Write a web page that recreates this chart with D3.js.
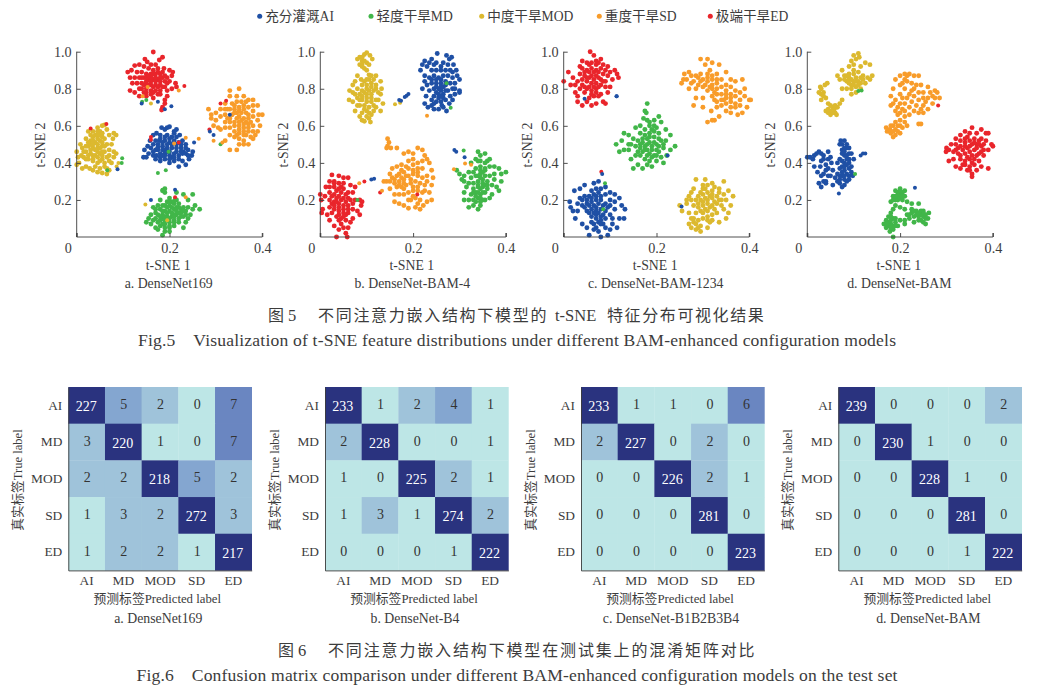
<!DOCTYPE html>
<html><head><meta charset="utf-8">
<script src="https://cdn.jsdelivr.net/npm/d3@7/dist/d3.min.js"></script>
<style>html,body{margin:0;padding:0;background:#fff}svg{display:block}
text{font-family:"Liberation Serif","Noto Sans CJK SC",serif}</style>
</head><body><svg id="c" width="1040" height="693"></svg>
<script>
const classes=["AI","MD","MOD","SD","ED"];
const legendLabels=["充分灌溉AI","轻度干旱MD","中度干旱MOD","重度干旱SD","极端干旱ED"];
const classColors=["#1f50a5","#41b649","#dcb92f","#f89c2a","#e9252b"];
const scatterXTicks=[0,.2,.4],scatterYTicks=[.2,.4,.6,.8,1];

const a_AI=[[.144,.43],[.15,.43],[.146,.47],[.153,.49],[.158,.52],[.16,.48],[.165,.55],[.172,.56],[.178,.52],[.183,.59],[.19,.58],[.195,.59],[.2,.595],[.21,.57],[.215,.58],[.222,.55],[.228,.52],[.235,.5],[.24,.47],[.25,.46],[.248,.44],[.242,.42],[.235,.39],[.228,.41],[.22,.38],[.21,.41],[.2,.4],[.19,.42],[.18,.41],[.17,.42],[.165,.44],[.155,.45],
[.17,.47],[.18,.45],[.19,.45],[.2,.44],[.21,.45],[.22,.44],[.23,.46],[.175,.5],[.185,.49],[.195,.48],[.205,.48],[.215,.48],[.225,.48],[.235,.45],[.18,.53],[.19,.52],[.2,.51],[.21,.52],[.22,.51],[.195,.55],[.205,.54],[.215,.54],[.19,.47],[.2,.46],[.205,.43],[.185,.47],[.172,.44],[.228,.45],
[.165,.46],[.175,.485],[.165,.5],[.185,.51],[.195,.5],[.205,.5],[.215,.5],[.225,.5],[.18,.43],[.19,.44],[.2,.42],[.21,.43],[.22,.42],[.225,.46],[.195,.46],[.215,.46],[.2,.53],[.21,.56],[.19,.54],[.18,.55],[.175,.47],[.17,.52],[.235,.48],[.24,.44],[.185,.44]];
const a_MD=[[.15,.08],[.155,.1],[.16,.12],[.165,.16],[.17,.13],[.175,.17],[.18,.2],[.19,.24],[.2,.21],[.212,.2],[.215,.24],[.23,.23],[.25,.23],[.24,.2],[.255,.17],[.265,.15],[.25,.15],[.245,.12],[.24,.1],[.235,.08],[.23,.05],[.22,.08],[.21,.06],[.2,.03],[.19,.05],[.185,.01],[.18,.06],[.17,.05],[.16,.07],[.19,.26],[.185,.25],[.175,.04],
[.17,.1],[.18,.09],[.19,.09],[.2,.08],[.21,.09],[.22,.1],[.23,.11],[.175,.12],[.185,.12],[.195,.11],[.205,.11],[.215,.12],[.225,.13],[.235,.14],[.18,.15],[.19,.14],[.2,.14],[.21,.15],[.22,.16],[.23,.16],[.19,.17],[.2,.17],[.21,.18],[.22,.18],[.195,.19],[.165,.09],[.24,.16],[.2,.05],[.21,.12],[.19,.07],
[.175,.08],[.185,.1],[.195,.13],[.205,.13],[.215,.14],[.225,.11],[.18,.11],[.19,.11],[.2,.1],[.21,.11],[.22,.13],[.185,.14],[.195,.16],[.205,.16],[.215,.16],[.225,.15],[.205,.19],[.215,.2],[.185,.17],[.2,.06],[.19,.03],[.21,.08],[.23,.14],[.17,.15],[.235,.12],[.185,.07],[.2,.19]];
const a_MOD=[[.0,.39],[.003,.43],[.0,.46],[.008,.5],[.005,.4],[.012,.37],[.02,.38],[.028,.37],[.035,.36],[.045,.35],[.055,.345],[.065,.34],[.07,.36],[.06,.38],[.075,.4],[.08,.43],[.085,.45],[.08,.46],[.07,.47],[.075,.5],[.078,.53],[.085,.55],[.08,.56],[.07,.55],[.065,.58],[.055,.6],[.05,.57],[.045,.59],[.035,.57],[.025,.57],[.02,.53],[.012,.48],[.06,.605],
[.015,.43],[.025,.42],[.035,.41],[.045,.4],[.055,.42],[.065,.43],[.02,.46],[.03,.45],[.04,.44],[.05,.45],[.06,.46],[.025,.49],[.035,.48],[.045,.48],[.055,.49],[.065,.5],[.03,.52],[.04,.51],[.05,.52],[.06,.53],[.035,.54],[.045,.55],[.055,.56],[.015,.46],[.07,.44],[.05,.41],[.04,.38],[.03,.5],[.02,.42],[.01,.44],
[.025,.44],[.035,.44],[.045,.46],[.055,.46],[.03,.47],[.04,.47],[.05,.48],[.06,.49],[.025,.51],[.035,.5],[.045,.5],[.055,.51],[.035,.52],[.045,.53],[.055,.54],[.04,.55],[.05,.55],[.045,.57],[.03,.55],[.02,.49],[.035,.42],[.045,.43],[.055,.44],[.06,.4],[.065,.37],[.05,.37],[.07,.41]];
const a_SD=[[.284,.69],[.29,.64],[.29,.66],[.295,.6],[.3,.63],[.305,.59],[.31,.69],[.32,.72],[.33,.76],[.33,.79],[.35,.8],[.345,.76],[.36,.76],[.37,.74],[.38,.74],[.39,.71],[.4,.66],[.392,.66],[.395,.6],[.39,.57],[.385,.55],[.38,.53],[.37,.5],[.36,.5],[.35,.5],[.345,.47],[.33,.47],[.32,.52],[.31,.58],[.34,.54],[.39,.63],
[.31,.65],[.32,.62],[.33,.59],[.34,.57],[.35,.56],[.36,.55],[.37,.57],[.38,.6],[.32,.66],[.33,.64],[.34,.62],[.35,.6],[.36,.59],[.37,.61],[.38,.65],[.33,.69],[.34,.67],[.35,.65],[.36,.64],[.37,.66],[.38,.68],[.32,.59],[.34,.71],[.35,.7],[.36,.69],[.37,.7],[.345,.73],[.355,.73],[.365,.62],[.33,.55],[.35,.53],[.36,.52],[.325,.69],[.375,.54],[.3,.67],
[.33,.62],[.34,.6],[.35,.62],[.36,.61],[.345,.64],[.355,.63],[.335,.66],[.345,.67],[.355,.67],[.365,.67],[.37,.64],[.375,.62],[.325,.64],[.34,.69],[.35,.68],[.36,.71],[.35,.58],[.36,.57],[.37,.59],[.345,.55],[.365,.55],[.38,.57],[.335,.72],[.365,.73],[.32,.69],[.38,.71]];
const a_ED=[[.165,.998],[.147,.96],[.152,.945],[.185,.97],[.178,.955],[.135,.93],[.125,.925],[.11,.89],[.118,.9],[.115,.86],[.12,.83],[.115,.79],[.125,.78],[.135,.8],[.205,.87],[.2,.9],[.207,.89],[.215,.81],[.205,.8],[.213,.83],[.195,.76],[.19,.74],[.19,.72],[.185,.7],[.183,.685],[.195,.79],[.165,.75],[.15,.76],[.135,.76],[.17,.93],[.16,.93],[.145,.92],[.188,.91],
[.14,.8],[.15,.8],[.16,.79],[.17,.79],[.18,.79],[.19,.81],[.14,.83],[.15,.83],[.16,.82],[.17,.82],[.18,.82],[.19,.84],[.135,.86],[.145,.86],[.155,.85],[.165,.85],[.175,.85],[.185,.86],[.195,.86],[.14,.89],[.15,.88],[.16,.88],[.17,.88],[.18,.88],[.13,.89],[.155,.91],[.165,.9],[.175,.91],[.185,.89],[.13,.83],[.16,.77],[.175,.77],
[.15,.84],[.16,.84],[.17,.84],[.18,.84],[.155,.82],[.165,.81],[.175,.81],[.185,.81],[.15,.86],[.16,.86],[.17,.86],[.18,.86],[.145,.82],[.15,.78],[.165,.78],[.18,.77],[.165,.88],[.175,.89],[.19,.87],[.145,.78],[.14,.86],[.155,.87],[.195,.83],[.2,.84],[.125,.86]];
const a_stray=[[.03,.585,4],[.064,.61,4],[.066,.36,1],[.086,.38,2],[.09,.4,2],[.097,.4,1],[.098,.425,1],[.088,.365,0],[.15,.74,1],[.141,.73,1],[.14,.72,0],[.16,.72,2],[.175,.73,0],[.19,.69,0],[.204,.705,0],[.22,.79,3],[.232,.815,4],[.142,.76,3],[.153,.81,3],[.322,.735,4],[.31,.72,4],[.286,.58,4],[.287,.57,0],[.295,.55,0],[.31,.5,1],[.314,.51,3],[.33,.66,0],[.263,.53,3],[.253,.51,0],[.295,.52,3],[.16,.54,4],[.16,.525,4],[.22,.51,4],[.21,.505,3],[.198,.46,1],[.235,.535,3],[.175,.345,1],[.192,.36,1],[.185,.255,1],[.212,.255,0],[.212,.215,4],[.235,.215,3],[.16,.2,0],[.148,.175,2],[.195,.09,2]];

const b_AI=[[.216,.9],[.22,.93],[.225,.95],[.235,.94],[.24,.96],[.25,.94],[.252,.99],[.265,.94],[.272,.98],[.278,.96],[.283,.97],[.287,.93],[.293,.9],[.295,.87],[.3,.85],[.29,.83],[.285,.8],[.29,.77],[.285,.74],[.278,.72],[.272,.68],[.265,.7],[.255,.69],[.245,.69],[.24,.71],[.232,.7],[.225,.72],[.228,.76],[.235,.79],[.22,.8],[.225,.84],[.225,.87],
[.24,.9],[.25,.9],[.26,.9],[.27,.9],[.28,.9],[.235,.86],[.245,.87],[.255,.86],[.265,.87],[.275,.87],[.285,.86],[.24,.83],[.25,.83],[.26,.83],[.27,.84],[.28,.83],[.245,.8],[.255,.8],[.265,.81],[.275,.79],[.245,.76],[.255,.77],[.265,.77],[.27,.74],[.25,.73],[.26,.73],[.262,.71],[.3,.79],[.3,.78],
[.23,.92],[.245,.93],[.26,.92],[.275,.93],[.285,.89],[.23,.82],[.24,.85],[.25,.85],[.26,.85],[.27,.82],[.25,.81],[.26,.81],[.27,.79],[.24,.74],[.255,.75],[.265,.75],[.245,.72],[.28,.76],[.26,.79],[.25,.78],[.26,.76],[.29,.8]];
const b_MD=[[.294,.36],[.3,.34],[.31,.33],[.32,.35],[.325,.4],[.335,.42],[.345,.44],[.34,.46],[.355,.45],[.36,.41],[.365,.42],[.375,.38],[.385,.37],[.39,.34],[.4,.35],[.39,.3],[.38,.27],[.385,.25],[.37,.23],[.365,.21],[.355,.2],[.345,.17],[.34,.15],[.33,.17],[.32,.16],[.32,.2],[.31,.2],[.31,.24],[.315,.27],[.31,.3],[.305,.31],[.375,.31],
[.325,.32],[.335,.33],[.345,.34],[.355,.36],[.365,.33],[.33,.29],[.34,.3],[.35,.31],[.36,.3],[.37,.28],[.33,.26],[.34,.27],[.35,.27],[.36,.26],[.325,.23],[.335,.24],[.345,.23],[.355,.24],[.33,.2],[.34,.21],[.35,.2],[.345,.38],[.335,.37],[.355,.4],[.32,.29],[.34,.41],[.375,.34],[.33,.35],
[.345,.32],[.355,.33],[.34,.28],[.35,.29],[.345,.26],[.355,.28],[.335,.22],[.345,.21],[.34,.24],[.35,.24],[.33,.24],[.345,.36],[.355,.37],[.34,.33],[.36,.28],[.345,.19],[.335,.19],[.35,.35],[.365,.38],[.345,.41]];
const b_MOD=[[.085,.97],[.1,.995],[.095,.985],[.107,.98],[.112,.96],[.08,.96],[.085,.93],[.09,.92],[.1,.94],[.105,.93],[.09,.95],[.095,.91],[.1,.9],[.105,.875],[.088,.85],[.08,.87],[.075,.84],[.07,.82],[.063,.79],[.062,.74],[.07,.73],[.08,.71],[.075,.68],[.085,.65],[.095,.625],[.105,.64],[.11,.66],[.12,.7],[.13,.68],[.135,.72],[.13,.77],[.132,.8],[.13,.84],[.12,.87],[.11,.87],
[.08,.8],[.09,.82],[.1,.82],[.11,.83],[.12,.82],[.085,.77],[.095,.78],[.105,.79],[.115,.79],[.125,.78],[.08,.75],[.09,.74],[.1,.75],[.11,.75],[.12,.74],[.085,.71],[.095,.71],[.105,.7],[.115,.71],[.09,.67],[.1,.68],[.108,.62],[.1,.85],[.07,.78],[.125,.74],[.09,.63],
[.09,.97],[.095,.95],[.09,.93],[.1,.8],[.09,.79],[.11,.81],[.1,.77],[.11,.77],[.09,.76],[.1,.73],[.11,.73],[.085,.74],[.095,.69],[.105,.67],[.1,.65],[.115,.85],[.105,.85],[.095,.84],[.075,.77],[.12,.8],[.115,.68]];
const b_SD=[[.145,.53],[.148,.51],[.145,.49],[.143,.48],[.152,.48],[.165,.48],[.18,.45],[.19,.46],[.2,.45],[.21,.48],[.22,.47],[.225,.44],[.23,.42],[.235,.4],[.24,.36],[.243,.32],[.24,.28],[.235,.24],[.24,.2],[.23,.19],[.222,.17],[.215,.15],[.205,.16],[.19,.155],[.18,.17],[.17,.18],[.16,.19],[.16,.23],[.15,.26],[.143,.3],[.137,.3],[.15,.34],[.155,.37],[.165,.38],
[.17,.34],[.18,.35],[.19,.37],[.2,.39],[.21,.4],[.22,.37],[.16,.31],[.17,.3],[.18,.31],[.19,.33],[.2,.34],[.21,.35],[.22,.32],[.23,.33],[.165,.27],[.175,.27],[.185,.28],[.195,.29],[.205,.3],[.215,.29],[.225,.28],[.18,.23],[.19,.24],[.2,.25],[.21,.25],[.22,.24],[.195,.2],[.205,.21],[.215,.2],[.2,.42],[.19,.41],[.175,.39],[.17,.23],
[.165,.33],[.175,.32],[.185,.33],[.155,.32],[.17,.28],[.18,.29],[.16,.29],[.175,.36],[.185,.38],[.2,.36],[.21,.33],[.21,.37],[.22,.41],[.195,.31],[.2,.27],[.21,.27],[.225,.25],[.18,.26],[.2,.22],[.21,.18],[.19,.2],[.23,.3],[.15,.3]];
const b_ED=[[.0,.23],[.002,.2],[.003,.13],[.005,.15],[.01,.22],[.012,.27],[.02,.3],[.025,.335],[.03,.3],[.04,.33],[.05,.32],[.06,.32],[.065,.28],[.075,.27],[.085,.2],[.09,.19],[.088,.17],[.08,.14],[.085,.12],[.07,.1],[.065,.08],[.06,.05],[.055,.02],[.058,.0],[.035,.0],[.04,.04],[.03,.06],[.02,.09],[.015,.12],[.075,.2],[.07,.24],
[.02,.16],[.03,.15],[.04,.14],[.05,.13],[.06,.13],[.07,.15],[.02,.2],[.03,.19],[.04,.18],[.05,.17],[.06,.17],[.07,.18],[.02,.24],[.03,.23],[.04,.22],[.05,.21],[.06,.21],[.03,.27],[.04,.26],[.05,.26],[.06,.24],[.035,.11],[.045,.1],[.055,.09],[.045,.07],[.05,.05],[.025,.13],[.04,.29],
[.025,.18],[.035,.21],[.045,.2],[.055,.19],[.065,.2],[.025,.22],[.035,.25],[.045,.24],[.055,.23],[.03,.17],[.04,.16],[.05,.15],[.06,.15],[.04,.12],[.05,.11],[.03,.29],[.05,.29],[.04,.09],[.055,.12],[.035,.19],[.045,.27],[.02,.27]];
const b_stray=[[.161,.716,2],[.172,.725,2],[.17,.74,0],[.174,.735,0],[.182,.755,0],[.186,.762,0],[.19,.772,0],[.272,.83,1],[.281,.698,1],[.23,.655,3],[.209,.23,4],[.129,.24,4],[.133,.25,3],[.084,.29,3],[.095,.3,4],[.11,.31,0],[.116,.315,0],[.289,.469,0],[.293,.46,0],[.309,.467,1],[.311,.43,0],[.288,.365,3],[.312,.397,3],[.325,.39,3],[.08,.2,1]];

const c_AI=[[.013,.19],[.015,.16],[.02,.14],[.025,.1],[.03,.14],[.035,.21],[.023,.25],[.035,.26],[.045,.28],[.065,.29],[.075,.3],[.08,.26],[.09,.27],[.1,.24],[.11,.23],[.12,.21],[.125,.17],[.132,.15],[.13,.1],[.12,.1],[.115,.05],[.105,.07],[.1,.04],[.095,.01],[.08,.0],[.075,.03],[.065,.04],[.055,.01],[.05,.05],[.04,.07],[.06,.08],
[.04,.17],[.05,.18],[.06,.19],[.07,.2],[.08,.2],[.09,.18],[.1,.17],[.045,.22],[.055,.22],[.065,.23],[.075,.24],[.09,.23],[.05,.14],[.06,.15],[.07,.16],[.08,.15],[.09,.14],[.11,.15],[.06,.11],[.07,.12],[.08,.11],[.09,.1],[.1,.12],[.065,.07],[.075,.08],[.085,.07],[.09,.05],[.03,.18],[.07,.14],[.11,.19],
[.05,.2],[.06,.21],[.07,.22],[.08,.22],[.045,.16],[.055,.17],[.065,.17],[.075,.18],[.085,.17],[.1,.2],[.055,.13],[.065,.13],[.075,.13],[.085,.12],[.07,.1],[.08,.09],[.06,.25],[.07,.26],[.08,.07],[.07,.05],[.095,.16],[.04,.2],[.105,.1]];
const c_MD=[[.113,.5],[.12,.46],[.125,.52],[.13,.56],[.14,.55],[.14,.5],[.15,.53],[.155,.59],[.165,.6],[.172,.64],[.178,.67],[.18,.72],[.175,.68],[.185,.62],[.195,.63],[.205,.65],[.21,.62],[.22,.58],[.23,.55],[.24,.49],[.23,.47],[.222,.44],[.215,.4],[.2,.41],[.19,.38],[.18,.39],[.17,.37],[.16,.39],[.15,.37],[.145,.42],[.13,.47],[.155,.44],
[.155,.49],[.165,.48],[.175,.47],[.185,.45],[.195,.44],[.205,.46],[.215,.48],[.16,.52],[.17,.51],[.18,.5],[.19,.49],[.2,.5],[.21,.52],[.22,.52],[.165,.56],[.175,.55],[.185,.54],[.195,.54],[.205,.56],[.19,.58],[.2,.59],[.175,.58],[.165,.44],[.175,.42],[.185,.41],[.14,.47],[.18,.63],[.145,.5],
[.17,.46],[.18,.47],[.19,.47],[.2,.47],[.175,.49],[.185,.51],[.195,.51],[.205,.49],[.215,.5],[.165,.5],[.18,.44],[.19,.43],[.2,.44],[.21,.43],[.185,.56],[.195,.57],[.205,.53],[.185,.6],[.195,.6],[.16,.46],[.17,.53],[.18,.53]];
const c_MOD=[[.25,.17],[.255,.14],[.265,.18],[.27,.13],[.275,.1],[.27,.07],[.275,.05],[.285,.04],[.295,.03],[.31,.05],[.32,.09],[.335,.08],[.35,.1],[.355,.13],[.36,.17],[.365,.22],[.355,.25],[.345,.3],[.335,.26],[.32,.29],[.305,.31],[.3,.28],[.285,.31],[.28,.26],[.275,.24],[.27,.22],[.265,.2],[.345,.15],[.33,.13],
[.29,.22],[.3,.23],[.31,.24],[.32,.25],[.33,.22],[.34,.2],[.28,.17],[.29,.18],[.3,.19],[.31,.2],[.32,.21],[.33,.18],[.35,.2],[.285,.13],[.295,.14],[.305,.15],[.315,.16],[.325,.15],[.29,.09],[.3,.1],[.31,.11],[.32,.12],[.28,.08],[.295,.06],[.3,.26],[.31,.28],[.285,.2],[.315,.08],[.335,.24],
[.295,.2],[.305,.21],[.315,.22],[.325,.19],[.335,.2],[.345,.23],[.29,.16],[.3,.17],[.31,.18],[.32,.17],[.3,.13],[.31,.14],[.31,.09],[.285,.07],[.295,.24],[.305,.26],[.325,.27],[.28,.1],[.29,.05],[.32,.23],[.275,.2],[.34,.17]];
const c_SD=[[.254,.83],[.258,.85],[.26,.88],[.27,.89],[.275,.87],[.285,.87],[.295,.96],[.31,.96],[.305,.93],[.32,.94],[.335,.93],[.35,.89],[.34,.85],[.36,.85],[.37,.84],[.385,.85],[.39,.8],[.4,.74],[.403,.74],[.395,.7],[.385,.67],[.375,.66],[.36,.67],[.35,.68],[.335,.65],[.325,.63],[.32,.63],[.31,.62],[.318,.68],[.3,.7],[.28,.71],[.285,.75],[.27,.8],[.3,.75],
[.28,.84],[.29,.82],[.3,.81],[.31,.79],[.32,.76],[.33,.73],[.34,.71],[.29,.86],[.3,.85],[.31,.84],[.32,.82],[.33,.8],[.34,.77],[.35,.75],[.36,.73],[.37,.72],[.31,.88],[.32,.87],[.33,.85],[.34,.81],[.35,.79],[.36,.77],[.37,.76],[.38,.74],[.315,.81],[.325,.78],[.33,.88],[.345,.74],[.38,.71],[.37,.79],[.39,.76],[.36,.81],
[.265,.85],[.275,.83],[.285,.8],[.295,.84],[.305,.82],[.32,.8],[.33,.83],[.32,.85],[.31,.86],[.33,.77],[.34,.74],[.35,.72],[.36,.7],[.37,.7],[.38,.78],[.35,.82],[.295,.88],[.315,.9],[.35,.77],[.36,.75],[.33,.7],[.325,.74]];
const c_ED=[[.0,.84],[.01,.89],[.015,.82],[.02,.86],[.025,.78],[.03,.73],[.035,.92],[.04,.95],[.05,.94],[.057,1],[.065,.98],[.07,.95],[.08,.96],[.085,.93],[.095,.92],[.11,.9],[.115,.88],[.118,.86],[.105,.85],[.1,.81],[.095,.78],[.085,.73],[.09,.72],[.07,.72],[.06,.71],[.05,.73],[.04,.71],[.03,.76],[.075,.76],
[.03,.84],[.04,.82],[.05,.8],[.06,.79],[.07,.8],[.08,.82],[.09,.84],[.035,.88],[.045,.87],[.055,.86],[.065,.85],[.075,.86],[.085,.88],[.095,.87],[.04,.91],[.05,.9],[.06,.91],[.07,.9],[.08,.91],[.06,.94],[.045,.78],[.055,.75],[.065,.76],[.08,.77],[.06,.83],[.07,.83],[.05,.84],[.1,.89],[.04,.85],
[.045,.81],[.055,.81],[.065,.81],[.075,.81],[.05,.86],[.06,.87],[.07,.87],[.08,.85],[.045,.89],[.055,.89],[.065,.89],[.075,.89],[.09,.81],[.06,.77],[.07,.78],[.035,.8],[.025,.82],[.085,.84],[.09,.9],[.055,.93],[.07,.93],[.075,.94]];
const c_stray=[[.114,.76,0],[.114,.76,0],[.045,.746,0],[.081,.352,4],[.083,.34,0],[.089,.29,1],[.085,.15,1],[.224,.44,0],[.254,.165,0]];

const d_AI=[[.0,.43],[.006,.43],[.012,.42],[.02,.45],[.025,.46],[.03,.45],[.015,.38],[.022,.35],[.028,.38],[.03,.33],[.025,.29],[.03,.27],[.035,.3],[.04,.29],[.045,.46],[.05,.43],[.052,.4],[.055,.36],[.05,.33],[.055,.28],[.065,.3],[.07,.33],[.075,.27],[.08,.28],[.085,.3],[.09,.33],[.098,.33],[.095,.38],[.1,.42],[.095,.45],[.09,.48],[.08,.52],[.072,.52],[.07,.5],[.075,.47],
[.07,.42],[.08,.44],[.085,.48],[.08,.4],[.09,.42],[.07,.37],[.08,.36],[.09,.37],[.075,.33],[.085,.34],[.08,.31],[.07,.29],[.04,.39],[.035,.42],[.04,.36],[.03,.41],[.045,.33],[.075,.41],[.085,.44],[.09,.31],[.09,.4],[.065,.4],[.015,.44],[.04,.3],
[.075,.45],[.08,.48],[.085,.42],[.075,.38],[.085,.39],[.08,.33],[.07,.31],[.075,.5],[.08,.46],[.065,.34],[.06,.32],[.095,.35],[.08,.38],[.035,.44],[.045,.42],[.045,.37],[.035,.34],[.09,.45],[.085,.5],[.075,.35]];
const d_MD=[[.17,.09],[.165,.07],[.17,.05],[.178,.03],[.185,.06],[.175,.11],[.18,.13],[.185,.1],[.18,.19],[.185,.22],[.19,.25],[.2,.26],[.21,.25],[.21,.22],[.215,.19],[.225,.18],[.24,.18],[.25,.14],[.262,.13],[.26,.1],[.255,.07],[.25,.08],[.24,.09],[.23,.08],[.22,.1],[.21,.07],[.195,.06],[.2,.09],[.18,.07],[.185,.0],
[.19,.2],[.195,.22],[.2,.23],[.205,.2],[.19,.17],[.2,.16],[.21,.15],[.215,.12],[.225,.13],[.235,.14],[.245,.12],[.24,.11],[.25,.11],[.23,.11],[.175,.08],[.18,.09],[.19,.08],[.175,.06],[.185,.04],[.195,.24],[.185,.15],[.205,.24],[.225,.15],[.255,.12],[.21,.09],
[.185,.2],[.195,.2],[.2,.21],[.19,.22],[.2,.25],[.205,.22],[.17,.07],[.18,.05],[.19,.06],[.18,.11],[.235,.12],[.245,.14],[.25,.13],[.255,.1],[.24,.13],[.23,.14],[.22,.12],[.245,.09],[.19,.1]];
const d_MOD=[[.03,.74],[.025,.78],[.028,.81],[.038,.82],[.043,.83],[.035,.78],[.04,.75],[.03,.77],[.045,.72],[.04,.68],[.05,.66],[.06,.67],[.058,.69],[.065,.7],[.07,.72],[.075,.74],[.055,.7],[.045,.67],[.063,.66],[.05,.71],
[.065,.87],[.075,.9],[.08,.87],[.09,.92],[.095,.95],[.1,.98],[.11,.99],[.112,.97],[.115,.92],[.125,.94],[.135,.93],[.14,.87],[.135,.85],[.125,.83],[.115,.8],[.105,.78],[.095,.77],[.085,.8],[.075,.8],[.07,.85],[.09,.85],[.1,.84],[.11,.84],[.12,.87],[.1,.88],[.105,.86],[.09,.88],[.095,.82],[.105,.81],[.115,.86],[.085,.84],[.1,.9],[.11,.89],[.13,.86],
[.03,.8],[.035,.76],[.05,.68],[.055,.67],[.06,.71],[.045,.69],[.1,.82],[.105,.84],[.095,.85],[.095,.8],[.11,.82],[.115,.83],[.09,.83],[.08,.85],[.12,.85],[.1,.93],[.105,.96],[.09,.86],[.085,.87]];
const d_SD=[[.17,.59],[.172,.57],[.18,.56],[.185,.54],[.19,.55],[.2,.56],[.205,.59],[.185,.6],[.178,.58],[.195,.6],[.2,.63],[.21,.65],[.22,.66],[.24,.61],[.245,.61],[.25,.67],[.26,.69],[.27,.72],[.285,.75],[.28,.78],[.275,.79],[.26,.81],[.25,.78],[.245,.82],[.24,.87],[.23,.87],[.22,.88],[.21,.88],[.2,.87],[.19,.85],[.185,.8],[.18,.76],[.18,.71],[.19,.68],[.195,.66],
[.2,.72],[.205,.69],[.21,.72],[.22,.7],[.225,.73],[.235,.71],[.245,.69],[.24,.74],[.25,.75],[.26,.75],[.27,.76],[.22,.77],[.23,.76],[.21,.8],[.2,.82],[.215,.84],[.225,.83],[.23,.8],[.24,.78],[.2,.77],[.19,.74],[.21,.62],[.215,.6],[.19,.62],[.25,.71],
[.18,.6],[.19,.58],[.185,.57],[.195,.57],[.2,.67],[.21,.68],[.195,.7],[.205,.75],[.215,.75],[.225,.79],[.235,.82],[.21,.85],[.205,.83],[.215,.87],[.265,.78],[.275,.75],[.255,.73],[.23,.68],[.24,.67],[.2,.6],[.185,.72]];
const d_ED=[[.299,.46],[.3,.48],[.305,.41],[.31,.5],[.32,.53],[.33,.55],[.34,.57],[.35,.56],[.355,.59],[.365,.56],[.375,.58],[.385,.56],[.39,.56],[.385,.52],[.4,.49],[.397,.5],[.39,.47],[.38,.44],[.39,.37],[.375,.38],[.365,.36],[.355,.34],[.355,.325],[.345,.36],[.33,.37],[.32,.38],[.315,.42],[.305,.47],
[.32,.47],[.33,.49],[.34,.51],[.35,.52],[.36,.53],[.37,.52],[.375,.49],[.33,.44],[.34,.45],[.35,.46],[.36,.47],[.37,.45],[.34,.41],[.35,.42],[.36,.42],[.335,.39],[.35,.38],[.36,.39],[.37,.41],[.325,.45],[.345,.54],[.375,.53],[.38,.5],[.32,.5],[.35,.49],[.365,.5],[.33,.52],[.38,.47],
[.315,.46],[.325,.48],[.335,.47],[.345,.48],[.355,.44],[.365,.44],[.345,.43],[.34,.39],[.355,.4],[.365,.48],[.37,.5],[.34,.49],[.33,.42],[.355,.5],[.34,.53],[.36,.51],[.35,.36],[.375,.46]];
const d_stray=[[.11,.788,1],[.117,.79,1],[.282,.71,4],[.115,.44,0],[.12,.45,0],[.125,.45,0],[.103,.34,1],[.232,.266,0],[.068,.235,0]];

const scatterPanels=[
 {x0:76.7,sets:[a_AI,a_MD,a_MOD,a_SD,a_ED],stray:a_stray,cap:"a. DenseNet169"},
 {x0:320.3,sets:[b_AI,b_MD,b_MOD,b_SD,b_ED],stray:b_stray,cap:"b. DenseNet-BAM-4"},
 {x0:563.7,sets:[c_AI,c_MD,c_MOD,c_SD,c_ED],stray:c_stray,cap:"c. DenseNet-BAM-1234"},
 {x0:807.3,sets:[d_AI,d_MD,d_MOD,d_SD,d_ED],stray:d_stray,cap:"d. DenseNet-BAM"}];

const cmLabels=classes;
const cmA=[[227,5,2,0,7],[3,220,1,0,7],[2,2,218,5,2],[1,3,2,272,3],[1,2,2,1,217]];
const cmB=[[233,1,2,4,1],[2,228,0,0,1],[1,0,225,2,1],[1,3,1,274,2],[0,0,0,1,222]];
const cmC=[[233,1,1,0,6],[2,227,0,2,0],[0,0,226,2,1],[0,0,0,281,0],[0,0,0,0,223]];
const cmD=[[239,0,0,0,2],[0,230,1,0,0],[0,0,228,1,0],[0,0,0,281,0],[0,0,0,1,222]];
const cmPanels=[{x0:68.3,m:cmA,cap:"a. DenseNet169"},{x0:325,m:cmB,cap:"b. DenseNet-B4"},{x0:581,m:cmC,cap:"c. DenseNet-B1B2B3B4"},{x0:838.3,m:cmD,cap:"d. DenseNet-BAM"}];
const cmBreaks=[2,4,6,100],cmColors=["#bde6e6","#9fc3da","#84a6d0","#6a86c1","#2a337f"];

const svg=d3.select("#c");
const ink="#3c3c3c";
function label(x,y,t,size,anchor="middle",len){const e=svg.append("text").attr("x",x).attr("y",y).attr("font-size",size).attr("text-anchor",anchor).attr("dominant-baseline","central").attr("fill",ink).text(t);if(len)e.attr("textLength",len).attr("lengthAdjust","spacing");return e;}

// legend
const legX=[259.7,371,481.7,599.3,710.3];
legendLabels.forEach((t,i)=>{svg.append("circle").attr("cx",legX[i]).attr("cy",16.3).attr("r",2.5).attr("fill",classColors[i]);label(legX[i]+5.5,16.3,t,13.6,"start");});

// scatter panels
scatterPanels.forEach(p=>{
 const x=d3.scaleLinear([0,.4],[p.x0,p.x0+185.6]),y=d3.scaleLinear([0,1],[237,51.7]);
 const g=svg.append("g");
 p.sets.forEach((s,i)=>g.selectAll(null).data(s).join("circle").attr("cx",d=>x(d[0])).attr("cy",d=>y(d[1])).attr("r",2.45).attr("fill",classColors[i]));
 g.selectAll(null).data(p.stray).join("circle").attr("cx",d=>x(d[0])).attr("cy",d=>y(d[1])).attr("r",2).attr("fill",d=>classColors[d[2]]);
 const ax=svg.append("g").attr("transform","translate(0,237)").call(d3.axisBottom(x).tickValues(scatterXTicks).tickSize(-4).tickPadding(6).tickFormat(d=>d===0?"0":d3.format(".1f")(d)));
 const ay=svg.append("g").attr("transform",`translate(${p.x0},0)`).call(d3.axisLeft(y).tickValues(scatterYTicks).tickSize(-4).tickPadding(5).tickFormat(d3.format(".1f")));
 [ax,ay].forEach(a=>{a.attr("font-family",null).attr("font-size",14.2);a.selectAll("path,line").attr("stroke",ink).attr("stroke-width",.9);a.selectAll("text").attr("fill",ink);});
 ax.select(".domain").attr("d",`M${p.x0},-4V0H${p.x0+185.6}V-4`);
 ay.select(".domain").attr("d",`M0,51.7V237`);
 ax.selectAll("text").filter(d=>d===0).attr("dx",-9);
 label(p.x0+91.5,265.3,"t-SNE 1",13.8,"middle");
 label(p.x0+92,283.3,p.cap,13.8,"middle");
 label(p.x0-36.5,145,"t-SNE 2",13.8,"middle").attr("transform",`rotate(-90 ${p.x0-36.5} 145)`);
});

// confusion panels
cmPanels.forEach(p=>{
 const x=d3.scaleBand(cmLabels,[p.x0,p.x0+183.4]),y=d3.scaleBand(cmLabels,[387,570.4]);
 const col=d3.scaleThreshold(cmBreaks,cmColors);
 p.m.forEach((row,r)=>row.forEach((v,c)=>{
  svg.append("rect").attr("x",x(cmLabels[c])).attr("y",y(cmLabels[r])).attr("width",x.bandwidth()+.3).attr("height",y.bandwidth()+.3).attr("fill",col(v));
  label(x(cmLabels[c])+x.bandwidth()/2+(v>99?-.5:.5),y(cmLabels[r])+y.bandwidth()/2+(v>99?1:-.8),v,14).attr("fill",v>99?"#fff":"#333");
 }));
 const ax=svg.append("g").attr("transform","translate(0,570.4)").call(d3.axisBottom(x).tickSize(0).tickPadding(5));
 const ay=svg.append("g").attr("transform",`translate(${p.x0},0)`).call(d3.axisLeft(y).tickSize(0).tickPadding(6));
 [ax,ay].forEach(a=>{a.attr("font-family",null).attr("font-size",13.4);a.select(".domain").attr("stroke",ink).attr("stroke-width",.9);a.selectAll("text").attr("fill",ink);});
 label(p.x0+89,598.8,"预测标签Predicted label",12.8,"middle");
 label(p.x0+90,618.3,p.cap,13.8,"middle");
 label(p.x0-50,480,"真实标签True label",12.6,"middle").attr("transform",`rotate(-90 ${p.x0-50} 480)`);
});

// figure titles
function cjkTitle(y,parts){parts.forEach(q=>label(q[0],y,q[1],q[2]||16,"start").attr("letter-spacing",q[3]||0));}
cjkTitle(315.5,[[268,"图",16],[288,"5",16.5],[318,"不同注意力嵌入结构下模型的",16,1.7],[555,"t-SNE",16.5],[607,"特征分布可视化结果",16,1.6]]);
label(517,340,"Fig.5　Visualization of t-SNE feature distributions under different BAM-enhanced configuration models",17.6,"middle",758);
cjkTitle(650.5,[[278,"图",16],[298,"6",16.5],[328,"不同注意力嵌入结构下模型在测试集上的混淆矩阵对比",16,1.85]]);
label(517,675,"Fig.6　Confusion matrix comparison under different BAM-enhanced configuration models on the test set",17.6,"middle",761);
</script></body></html>
